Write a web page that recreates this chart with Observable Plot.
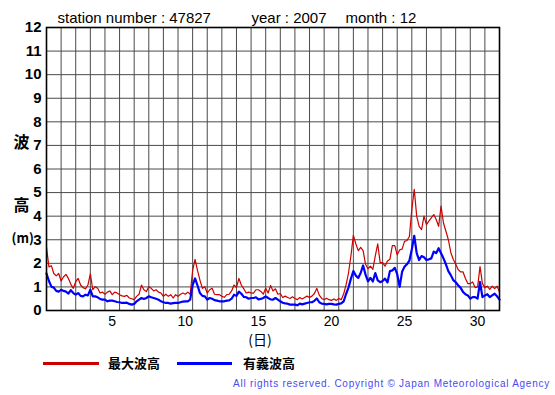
<!DOCTYPE html>
<html><head><meta charset="utf-8">
<script src="https://cdn.jsdelivr.net/npm/d3@7"></script>
<script src="https://cdn.jsdelivr.net/npm/@observablehq/plot@0.6"></script>
<style>
body{margin:0;background:#fff;font-family:"Liberation Sans",Arial,sans-serif;}
#wrap{position:relative;width:555px;height:395px;overflow:hidden;background:#fff;}
#chart{position:absolute;left:0;top:0;}
.lg-line{position:absolute;height:3px;}
.lg-text{position:absolute;font-family:"Noto Sans CJK JP",sans-serif;font-weight:bold;font-size:13px;line-height:16px;color:#000;}
#copy{position:absolute;right:5px;top:378px;font-size:10px;letter-spacing:0.75px;color:#4a4aee;font-family:"Liberation Sans",Arial,sans-serif;white-space:nowrap;}
</style></head><body>
<div id="wrap"><div id="chart"></div>
<div class="lg-line" style="left:43px;top:362px;width:56px;background:#cc0000"></div>
<div class="lg-text" style="left:108px;top:355px">最大波高</div>
<div class="lg-line" style="left:177px;top:362px;width:55px;background:#0000ff"></div>
<div class="lg-text" style="left:243px;top:355px">有義波高</div>
<div id="copy">All rights reserved. Copyright © Japan Meteorological Agency</div>
</div>
<script>
// Observations every 4 hours (6 per day), starting Dec 1 00:00
const samplesPerDay = 6;
const maxWave = [
  2.68,1.85,1.9,1.57,1.47,1.57,
  1.25,1.43,1.53,1.36,1.11,0.94,
  1.22,1.36,1.08,0.97,0.92,1.08,
  1.55,0.88,1.01,0.94,0.74,0.78,
  0.69,0.78,0.83,0.67,0.78,0.74,
  0.67,0.62,0.6,0.64,0.53,0.5,
  0.46,0.6,0.69,1.08,0.88,0.8,
  1.01,0.94,0.83,0.88,0.78,0.74,
  0.6,0.69,0.6,0.67,0.53,0.67,
  0.6,0.69,0.74,0.69,0.78,0.69,
  1.7,2.17,1.7,1.29,0.94,1.01,
  0.74,0.88,0.94,0.69,0.67,0.67,
  0.6,0.56,0.67,0.69,0.83,1.08,
  0.97,1.36,1.08,0.92,0.74,0.78,
  0.74,0.74,0.88,0.88,0.81,0.69,
  0.94,0.74,1.06,0.83,0.92,0.69,
  0.72,0.55,0.61,0.55,0.51,0.58,
  0.51,0.46,0.55,0.49,0.55,0.61,
  0.55,0.61,0.72,0.94,0.65,0.51,
  0.46,0.52,0.46,0.43,0.49,0.43,
  0.51,0.46,0.7,1.09,1.59,2.32,
  3.19,2.83,2.54,2.68,2.54,1.96,
  1.77,1.88,1.74,2.32,2.83,2.03,
  2.03,1.88,2.1,2.17,2.75,2.75,
  2.36,2.57,2.6,2.93,2.97,3.14,
  4.29,5.14,4.0,3.57,3.43,4.0,
  3.64,3.79,3.93,4.07,3.86,3.57,
  4.43,3.71,3.36,3.0,2.46,2.17,
  1.97,1.74,1.64,1.64,1.36,1.14,
  1.14,1.21,0.97,1.0,1.86,1.14,
  0.97,1.03,0.89,1.03,0.93,1.03,
  0.79
];
const sigWave = [
  1.57,1.25,1.01,0.97,0.83,0.8,
  0.88,0.83,0.8,0.72,0.86,0.74,
  0.67,0.74,0.62,0.6,0.67,0.64,
  0.88,0.6,0.6,0.56,0.49,0.46,
  0.46,0.39,0.42,0.42,0.39,0.36,
  0.35,0.32,0.32,0.33,0.28,0.25,
  0.28,0.39,0.46,0.53,0.49,0.53,
  0.6,0.56,0.53,0.5,0.46,0.39,
  0.35,0.32,0.32,0.29,0.31,0.32,
  0.32,0.35,0.38,0.39,0.39,0.46,
  1.08,1.36,1.06,0.74,0.62,0.6,
  0.46,0.53,0.5,0.44,0.42,0.39,
  0.39,0.39,0.42,0.43,0.5,0.67,
  0.62,0.8,0.71,0.58,0.56,0.5,
  0.53,0.53,0.56,0.47,0.49,0.53,
  0.6,0.53,0.47,0.46,0.53,0.46,
  0.39,0.33,0.3,0.29,0.25,0.25,
  0.25,0.22,0.29,0.26,0.29,0.32,
  0.35,0.35,0.41,0.51,0.35,0.29,
  0.28,0.26,0.28,0.28,0.26,0.25,
  0.28,0.3,0.39,0.7,0.97,1.35,
  1.67,1.48,1.38,1.59,1.91,1.52,
  1.23,1.38,1.23,1.59,1.28,1.2,
  1.25,1.35,1.19,1.67,1.7,1.81,
  1.54,1.0,1.64,1.86,1.96,2.11,
  2.6,3.17,2.43,2.14,2.31,2.26,
  2.14,2.17,2.21,2.5,2.43,2.64,
  2.43,2.21,1.96,1.67,1.5,1.29,
  1.2,1.07,0.97,0.79,0.69,0.64,
  0.5,0.57,0.57,0.5,1.21,0.57,
  0.64,0.69,0.57,0.64,0.71,0.6,
  0.46
];
const dayBoundaries = [1,2,3,4,5,6,7,8,9,10,11,12,13,14,15,16,17,18,19,20,21,22,23,24,25,26,27,28,29,30,31,32];
const xTickLabels = [5,10,15,20,25,30];
const yTicks = [0,1,2,3,4,5,6,7,8,9,10,11,12];
const titleParts = ["station number : 47827", "year : 2007", "month : 12"];
const xAxisLabel = "(日)";

const t = (d, i) => 1 + i / samplesPerDay;

const chart = Plot.plot({
  width: 555, height: 352,
  marginLeft: 46, marginRight: 56, marginTop: 27, marginBottom: 42,
  x: {domain: [1, 32], axis: null},
  y: {domain: [0, 12], axis: null},
  style: {fontFamily: "'Liberation Sans', Arial, sans-serif", background: "white", overflow: "visible", color: "black"},
  marks: [
    Plot.gridX(dayBoundaries, {stroke: "#4a4a4a", strokeOpacity: 1, strokeWidth: 1}),
    Plot.gridY(yTicks, {stroke: "#4a4a4a", strokeOpacity: 1, strokeWidth: 1}),
    Plot.line(maxWave, {x: t, y: d => d, stroke: "#cc0000", strokeWidth: 1.2}),
    Plot.line(sigWave, {x: t, y: d => d, stroke: "#0000ff", strokeWidth: 2.2}),
    Plot.frame({stroke: "black", strokeWidth: 1.6}),
    Plot.text(yTicks, {y: d => d, text: d => String(d), frameAnchor: "left", dx: -5, textAnchor: "end", lineAnchor: "middle", fontWeight: "bold", fontSize: 15, fill: "black"}),
    Plot.text(xTickLabels, {x: d => d + 0.5, text: d => String(d), frameAnchor: "bottom", dy: 15, lineAnchor: "bottom", fontSize: 14, fill: "black"}),
    Plot.text([xAxisLabel], {frameAnchor: "bottom", dx: -13, dy: 34, lineAnchor: "bottom", fontSize: 14, fontFamily: "'Noto Sans CJK JP', sans-serif", fill: "black", letterSpacing: "1px"}),
    Plot.text([titleParts[0]], {frameAnchor: "top-left", dx: 11, dy: -5, textAnchor: "start", lineAnchor: "bottom", fontSize: 15, fill: "black", letterSpacing: "0.5px"}),
    Plot.text([titleParts[1]], {frameAnchor: "top-left", dx: 205, dy: -5, textAnchor: "start", lineAnchor: "bottom", fontSize: 15, fill: "black"}),
    Plot.text([titleParts[2]], {frameAnchor: "top-left", dx: 299, dy: -5, textAnchor: "start", lineAnchor: "bottom", fontSize: 15, fill: "black"}),
    Plot.text(["波"], {y: 7.12, frameAnchor: "left", dx: -33, fontWeight: "bold", fontSize: 16, fontFamily: "'Noto Sans CJK JP', sans-serif", fill: "black"}),
    Plot.text(["高"], {y: 4.45, frameAnchor: "left", dx: -33, fontWeight: "bold", fontSize: 16, fontFamily: "'Noto Sans CJK JP', sans-serif", fill: "black"}),
    Plot.text(["(m)"], {y: 3.05, frameAnchor: "left", dx: -35, fontWeight: "bold", fontSize: 13, fontFamily: "'Noto Sans CJK JP', sans-serif", fill: "black"})
  ]
});
document.getElementById("chart").appendChild(chart);
</script>
</body></html>
